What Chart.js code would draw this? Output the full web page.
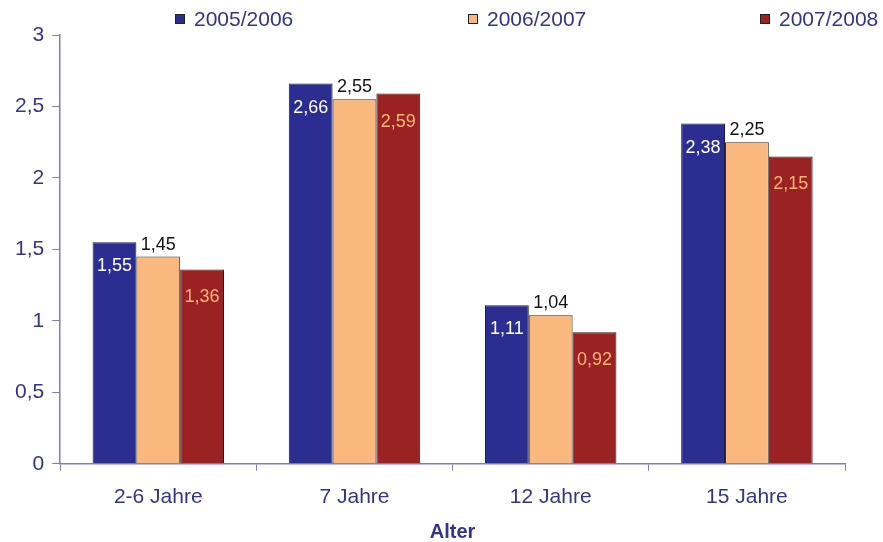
<!DOCTYPE html>
<html>
<head>
<meta charset="utf-8">
<script src="https://cdn.jsdelivr.net/npm/chart.js@4/dist/chart.umd.min.js"></script>
<style>
  body { margin: 0; background: #fff; }
  #wrap { width: 883px; height: 542px; position: relative; }
</style>
</head>
<body>
<div id="wrap"><canvas id="myChart"></canvas></div>
<script>
'use strict';
const categories = ['2-6 Jahre', '7 Jahre', '12 Jahre', '15 Jahre'];
const seriesNames = ['2005/2006', '2006/2007', '2007/2008'];
const values0506 = [1.55, 2.66, 1.11, 2.38];
const values0607 = [1.45, 2.55, 1.04, 2.25];
const values0708 = [1.36, 2.59, 0.92, 2.15];
const yTicks = [0, 0.5, 1, 1.5, 2, 2.5, 3];

const navy = '#34348a';
const fontName = '"Liberation Sans", Arial, sans-serif';

function fmt(v) {
  return String(v).replace('.', ',');
}

// value labels: white inside, black above, orange inside
const labelStyle = [
  { color: '#ffffff', where: 'inside', dy: 24 },
  { color: '#111111', where: 'above', dy: -3 },
  { color: '#fcb57a', where: 'inside', dy: 28 }
];

const valueLabels = {
  id: 'valueLabels',
  afterDatasetsDraw(chart) {
    const ctx = chart.ctx;
    ctx.save();
    ctx.font = '18px ' + fontName;
    ctx.textAlign = 'center';
    chart.data.datasets.forEach(function (ds, i) {
      const meta = chart.getDatasetMeta(i);
      const st = labelStyle[i];
      meta.data.forEach(function (bar, j) {
        ctx.fillStyle = st.color;
        ctx.textBaseline = st.where === 'above' ? 'bottom' : 'middle';
        ctx.fillText(fmt(ds.data[j]), bar.x, bar.y + st.dy);
      });
    });
    ctx.restore();
  }
};

// legend spread over the top like the original
const legendX = [175, 468, 760];
const topLegend = {
  id: 'topLegend',
  afterDraw(chart) {
    const ctx = chart.ctx;
    ctx.save();
    ctx.font = '21px ' + fontName;
    ctx.textBaseline = 'middle';
    ctx.textAlign = 'left';
    chart.data.datasets.forEach(function (ds, i) {
      const x = legendX[i];
      const y = 19;
      ctx.fillStyle = ds.backgroundColor;
      ctx.fillRect(x, y - 5, 10, 10);
      ctx.strokeStyle = '#222';
      ctx.lineWidth = 1;
      ctx.strokeRect(x + 0.5, y - 4.5, 9, 9);
      ctx.fillStyle = navy;
      ctx.fillText(ds.label, x + 19, y + 1);
    });
    ctx.restore();
  }
};

const ctx = document.getElementById('myChart').getContext('2d');
const chart = new Chart(ctx, {
  type: 'bar',
  data: {
    labels: categories,
    datasets: [
      { label: seriesNames[0], data: values0506, backgroundColor: '#2b2d90', borderColor: '#1a1a40', borderWidth: 1 },
      { label: seriesNames[1], data: values0607, backgroundColor: '#fbb87e', borderColor: '#3a2a20', borderWidth: 1 },
      { label: seriesNames[2], data: values0708, backgroundColor: '#9a2222', borderColor: '#3a1010', borderWidth: 1 }
    ]
  },
  options: {
    responsive: true,
    maintainAspectRatio: false,
    animation: false,
    categoryPercentage: 0.67,
    barPercentage: 1.0,
    layout: { padding: { top: 35, right: 38, left: 7, bottom: 0 } },
    plugins: {
      legend: { display: false },
      tooltip: { enabled: false }
    },
    scales: {
      x: {
        grid: { display: true, drawOnChartArea: false, offset: true, color: '#7f7fb2', tickLength: 7 },
        border: { color: '#7f7fb2', width: 1.5 },
        ticks: { color: navy, font: { family: fontName, size: 21 }, padding: 14 },
        title: { display: true, text: 'Alter', color: navy, font: { family: fontName, size: 20, weight: 'bold', lineHeight: 1 }, padding: { top: -2, bottom: 0 } }
      },
      y: {
        min: 0,
        max: 3,
        afterBuildTicks(axis) {
          axis.ticks = yTicks.map(function (v) { return { value: v }; });
        },
        grid: { display: true, drawOnChartArea: false, color: '#7f7fb2', tickLength: 8 },
        border: { color: '#7f7fb2', width: 1.5 },
        ticks: {
          color: navy,
          font: { family: fontName, size: 21 },
          padding: 8,
          callback: function (v) { return fmt(v); }
        }
      }
    }
  },
  plugins: [valueLabels, topLegend]
});
</script>
</body>
</html>
